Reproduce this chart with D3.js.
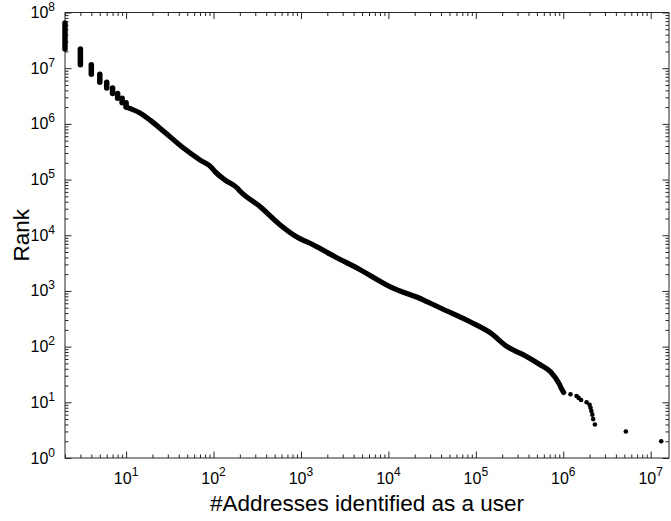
<!DOCTYPE html>
<html>
<head>
<meta charset="utf-8">
<script src="https://cdn.jsdelivr.net/npm/d3@7"></script>
<style>
  html, body { margin: 0; padding: 0; background: #fff; }
  svg { display: block; font-family: "Liberation Sans", Arial, Helvetica, sans-serif; }
</style>
</head>
<body>
<svg id="chart" width="671" height="521"></svg>
<script>
// Low counts: each integer count covers a whole run of ranks (vertical stacks)
const stackCounts      = [2, 3, 4, 5, 6, 7, 8, 9, 10];
const stackRankTop     = [6.5e7, 2.2e7, 1.15e7, 7.8e6, 5.6e6, 4.4e6, 3.5e6, 2.9e6, 2.4e6];
const stackRankBottom  = [2.2e7, 1.15e7, 7.8e6, 5.6e6, 4.4e6, 3.5e6, 2.9e6, 2.4e6, 2.0e6];

// Dense middle of the distribution
const bodyCounts = [10, 14.4, 18.8, 27.9, 45.3, 70.3, 93.5, 103.9, 135.9, 186.4, 203, 342, 579, 860,
                    1394, 2470, 4378, 10530, 25340, 39360, 86800, 147100, 228500, 354000, 550000,
                    715000, 891000, 974000, 1010000];
const bodyRanks  = [2.0e6, 1.57e6, 1.17e6, 7.0e5, 3.68e5, 2.24e5, 1.68e5, 1.39e5, 9.8e4, 7.05e4, 6.1e4,
                    3.25e4, 1.53e4, 9.7e3, 6.68e3, 4.07e3, 2.58e3, 1.18e3, 687, 494, 277, 176, 99.7,
                    70.7, 46.8, 35.4, 21.9, 16.6, 15];

// Largest users, drawn as individual points
const tailCounts = [1.21e6, 1.42e6, 1.5e6, 1.6e6, 1.85e6, 2.0e6, 2.05e6, 2.1e6, 2.15e6, 2.2e6, 2.3e6, 5.2e6, 1.32e7];
const tailRanks  = [14, 13, 12, 11, 10, 9, 8, 7, 6, 5, 4, 3, 2];

const xDomain = [2, 1.62e7];
const yDomain = [1, 1e8];
const xMajor = [1e1, 1e2, 1e3, 1e4, 1e5, 1e6, 1e7];
const yMajor = [1e0, 1e1, 1e2, 1e3, 1e4, 1e5, 1e6, 1e7, 1e8];
const xTitle = "#Addresses identified as a user";
const yTitle = "Rank";

const plot = { left: 65, right: 669, top: 12.5, bottom: 458 };
const ink = "#000";
const axisInk = "#262626";

const svg = d3.select("#chart");
const x = d3.scaleLog().domain(xDomain).range([plot.left, plot.right]);
const y = d3.scaleLog().domain(yDomain).range([plot.bottom, plot.top]);

const isMajor = v => Math.abs(Math.log10(v) - Math.round(Math.log10(v))) < 1e-9;
const xMinor = x.ticks().filter(v => !isMajor(v));
const yMinor = y.ticks().filter(v => !isMajor(v));

const majorLen = 6.5, minorLen = 3.5;
const pw = plot.right - plot.left, ph = plot.bottom - plot.top;

// inward-pointing ticks without labels; labels are added separately
function tickAxis(gen, values, len) {
  return gen.tickValues(values).tickSizeInner(len).tickSizeOuter(0).tickFormat(() => "").tickPadding(0);
}

const axes = svg.append("g").attr("class", "axes");
// bottom / top
axes.append("g").attr("transform", `translate(0,${plot.bottom})`).call(tickAxis(d3.axisBottom(x), xMajor, -majorLen));
axes.append("g").attr("transform", `translate(0,${plot.bottom})`).call(tickAxis(d3.axisBottom(x), xMinor, -minorLen));
axes.append("g").attr("transform", `translate(0,${plot.top})`).call(tickAxis(d3.axisTop(x), xMajor, -majorLen));
axes.append("g").attr("transform", `translate(0,${plot.top})`).call(tickAxis(d3.axisTop(x), xMinor, -minorLen));
// left / right
axes.append("g").attr("transform", `translate(${plot.left},0)`).call(tickAxis(d3.axisLeft(y), yMajor, -majorLen));
axes.append("g").attr("transform", `translate(${plot.left},0)`).call(tickAxis(d3.axisLeft(y), yMinor, -minorLen));
axes.append("g").attr("transform", `translate(${plot.right},0)`).call(tickAxis(d3.axisRight(y), yMajor, -majorLen));
axes.append("g").attr("transform", `translate(${plot.right},0)`).call(tickAxis(d3.axisRight(y), yMinor, -minorLen));
axes.selectAll(".domain").remove();
axes.selectAll(".tick line").attr("stroke", axisInk).attr("stroke-width", 1);

// frame
axes.append("rect")
  .attr("x", plot.left).attr("y", plot.top)
  .attr("width", pw).attr("height", ph)
  .attr("fill", "none").attr("stroke", axisInk).attr("stroke-width", 1);

// data marks
const marks = svg.append("g").attr("class", "marks");

marks.selectAll("line.stack")
  .data(stackCounts.map((c, i) => ({ c, top: stackRankTop[i], bot: stackRankBottom[i] })))
  .join("line")
  .attr("class", "stack")
  .attr("x1", d => x(d.c)).attr("x2", d => x(d.c))
  .attr("y1", d => y(d.top)).attr("y2", d => y(d.bot))
  .attr("stroke", ink).attr("stroke-width", 5.5).attr("stroke-linecap", "round");

const body = bodyCounts.map((c, i) => [c, bodyRanks[i]]);
marks.append("path")
  .datum(body)
  .attr("d", d3.line().x(d => x(d[0])).y(d => y(d[1])).curve(d3.curveMonotoneX))
  .attr("fill", "none").attr("stroke", ink).attr("stroke-width", 5.2)
  .attr("stroke-linecap", "round").attr("stroke-linejoin", "round");

marks.selectAll("circle.tail")
  .data(tailCounts.map((c, i) => [c, tailRanks[i]]))
  .join("circle")
  .attr("class", "tail")
  .attr("cx", d => x(d[0])).attr("cy", d => y(d[1]))
  .attr("r", 2.3).attr("fill", ink);

// tick labels: 10 with superscript exponent
const labels = svg.append("g").attr("class", "labels").attr("fill", "#000");

labels.selectAll("text.xl")
  .data(xMajor)
  .join("text")
  .attr("class", "xl")
  .attr("x", d => x(d)).attr("y", plot.bottom + 26)
  .attr("text-anchor", "middle").attr("font-size", 16)
  .each(function(d) {
    const t = d3.select(this);
    t.append("tspan").text("10");
    t.append("tspan").attr("font-size", 12).attr("dy", -8).text(Math.round(Math.log10(d)));
  });

labels.selectAll("text.yl")
  .data(yMajor)
  .join("text")
  .attr("class", "yl")
  .attr("x", plot.left - 10).attr("y", d => y(d) + 5.5)
  .attr("text-anchor", "end").attr("font-size", 16)
  .each(function(d) {
    const t = d3.select(this);
    t.append("tspan").text("10");
    t.append("tspan").attr("font-size", 12).attr("dy", -7).text(Math.round(Math.log10(d)));
  });

// axis titles
svg.append("text")
  .attr("x", (plot.left + plot.right) / 2).attr("y", 511)
  .attr("text-anchor", "middle").attr("font-size", 22.5).attr("fill", "#000")
  .text(xTitle);

svg.append("text")
  .attr("transform", `translate(29,${(plot.top + plot.bottom) / 2}) rotate(-90)`)
  .attr("text-anchor", "middle").attr("font-size", 22.5).attr("fill", "#000")
  .text(yTitle);
</script>
</body>
</html>
